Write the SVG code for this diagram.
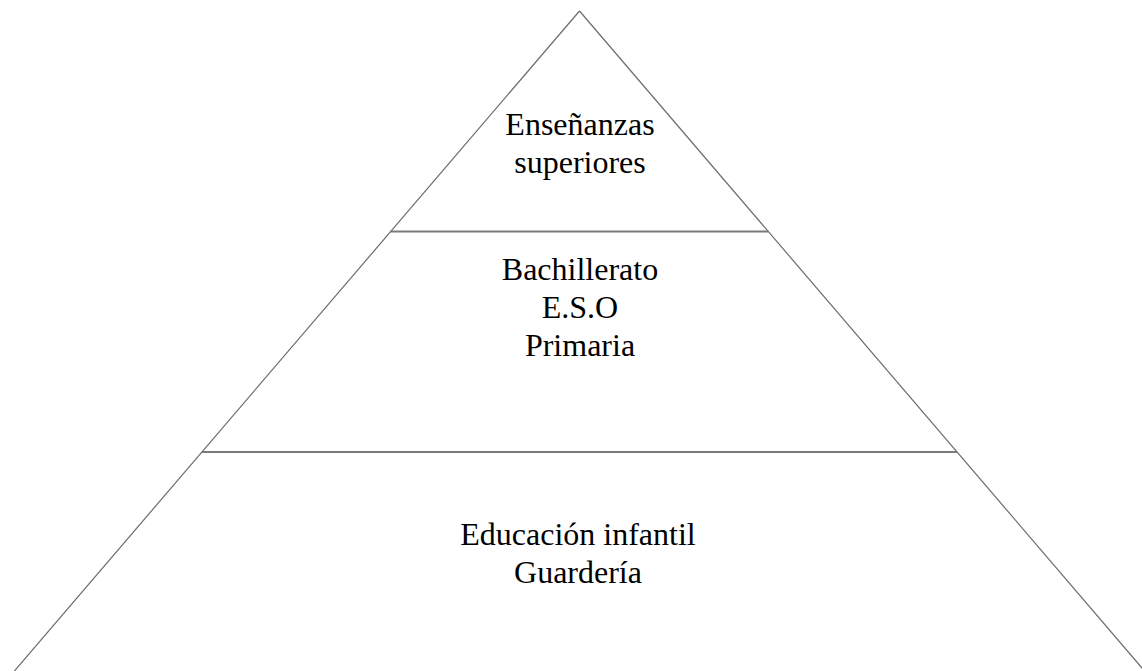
<svg xmlns="http://www.w3.org/2000/svg" width="1142" height="671" viewBox="0 0 1142 671">
<style>
.side{stroke:#6b6b6b;stroke-width:1.2;fill:none}
.div{stroke:#7a7a7a;stroke-width:1.8;fill:none}
.lbl{font-family:"Liberation Serif","Times New Roman",serif;font-size:32px;fill:#000;text-anchor:middle}
</style>
<rect width="1142" height="671" fill="#fff"/>
<g id="connectors">
<line class="side" x1="579.5" y1="11" x2="11" y2="675"/>
<line class="side" x1="579.5" y1="11" x2="1148" y2="675"/>
<line class="div" x1="390.5" y1="231.5" x2="768.5" y2="231.5"/>
<line class="div" x1="202" y1="452" x2="957" y2="452"/>
</g>
<g id="top">
<text class="lbl" x="580" y="135">Enseñanzas</text>
<text class="lbl" x="580" y="173">superiores</text>
</g>
<g id="middle">
<text class="lbl" x="580" y="280">Bachillerato</text>
<text class="lbl" x="580" y="318">E.S.O</text>
<text class="lbl" x="580" y="356">Primaria</text>
</g>
<g id="bottom">
<text class="lbl" x="578" y="545">Educación infantil</text>
<text class="lbl" x="578" y="583">Guardería</text>
</g>
</svg>
